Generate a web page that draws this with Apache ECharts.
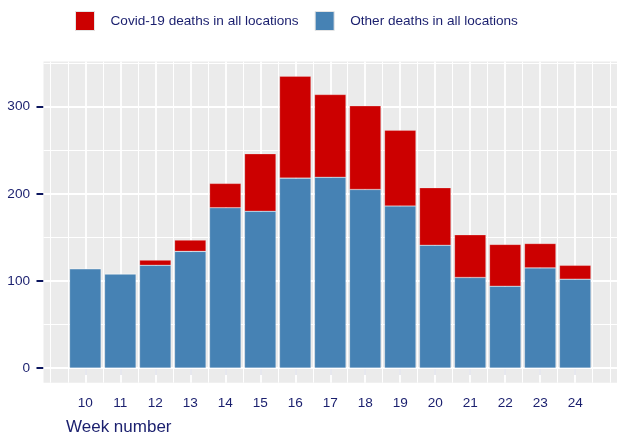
<!DOCTYPE html>
<html>
<head>
<meta charset="utf-8">
<script src="https://cdn.jsdelivr.net/npm/echarts@6/dist/echarts.min.js"></script>
<style>
html,body{margin:0;padding:0;background:#fff;}
#chart{width:617px;height:437px;}
</style>
</head>
<body>
<div id="chart"></div>
<script>
// ---- data ----
var weeks = [10, 11, 12, 13, 14, 15, 16, 17, 18, 19, 20, 21, 22, 23, 24];
var otherDeaths = [114, 108, 118, 134, 184, 180, 218, 219, 205, 186, 141, 104, 94, 115, 102];
var covidDeaths = [0, 0, 6, 13, 28, 66, 117, 95, 96, 87, 66, 49, 48, 28, 16];
var seriesNames = ['Covid-19 deaths in all locations', 'Other deaths in all locations'];
var xTickLabels = [10, 11, 12, 13, 14, 15, 16, 17, 18, 19, 20, 21, 22, 23, 24];
var yTickLabels = [0, 100, 200, 300];
var yMinorGrid = [50, 150, 250, 350];
var xMinorGrid = [9, 9.5, 10.5, 11.5, 12.5, 13.5, 14.5, 15.5, 16.5, 17.5, 18.5, 19.5, 20.5, 21.5, 22.5, 23.5, 24.5, 25];

var textColor = '#1a1f6e';
var tickColor = '#0b155e';
var font = 'Liberation Sans, Arial, sans-serif';
var fs = 13.6;

var gridLines = [];
yTickLabels.forEach(function (v) { gridLines.push({ yAxis: v, lineStyle: { color: '#ffffff', width: 1.8, type: 'solid' } }); });
yMinorGrid.forEach(function (v) { gridLines.push({ yAxis: v, lineStyle: { color: '#ffffff', width: 1.0, type: 'solid' } }); });
xTickLabels.forEach(function (v) { gridLines.push({ xAxis: v, lineStyle: { color: '#ffffff', width: 1.8, type: 'solid' } }); });
xMinorGrid.forEach(function (v) { gridLines.push({ xAxis: v, lineStyle: { color: '#ffffff', width: 1.0, type: 'solid' } }); });

var chart = echarts.init(document.getElementById('chart'), null, { renderer: 'canvas' });
chart.setOption({
  animation: false,
  backgroundColor: '#ffffff',
  textStyle: { fontFamily: font },
  title: {
    text: 'Week number',
    left: 66,
    top: 419,
    padding: 0,
    textStyle: { fontFamily: font, fontSize: 17, fontWeight: 'normal', color: textColor }
  },
  legend: {
    left: 75,
    top: 11,
    padding: 0,
    itemWidth: 19,
    itemHeight: 19,
    itemGap: 16,
    icon: 'rect',
    data: seriesNames,
    itemStyle: { borderColor: '#e4e4e4', borderWidth: 1 },
    textStyle: { fontFamily: font, fontSize: fs, color: textColor, padding: [0, 0, 0, 11] }
  },
  grid: {
    left: 43.5,
    right: -3.5,
    top: 61.6,
    bottom: 54.3,
    show: true,
    backgroundColor: '#ebebeb',
    borderWidth: 0
  },
  xAxis: {
    type: 'value',
    min: 8.805,
    max: 25.195,
    axisLine: { show: false },
    splitLine: { show: false },
    axisTick: { show: true, customValues: xTickLabels, length: 7, lineStyle: { color: tickColor, width: 2 } },
    axisLabel: { customValues: xTickLabels, margin: 14, fontSize: fs, color: textColor, fontFamily: font }
  },
  yAxis: {
    type: 'value',
    min: -16.75,
    max: 351.75,
    axisLine: { show: false },
    splitLine: { show: false },
    axisTick: { show: true, customValues: yTickLabels, length: 7, lineStyle: { color: tickColor, width: 2 } },
    axisLabel: { customValues: yTickLabels, margin: 13.5, fontSize: fs, color: textColor, fontFamily: font }
  },
  series: [
    {
      name: 'grid',
      type: 'line',
      data: [],
      silent: true,
      z: 1,
      markLine: {
        silent: true,
        z: 1,
        symbol: ['none', 'none'],
        label: { show: false },
        emphasis: { disabled: true },
        animation: false,
        data: gridLines
      }
    },
    {
      name: seriesNames[1],
      type: 'bar',
      stack: 'total',
      barWidth: '90%',
      z: 3,
      encode: { x: 1, y: 0 },
      itemStyle: { color: '#4682b4', borderColor: 'rgba(255,255,255,0.35)', borderWidth: 0.6 },
      data: weeks.map(function (w, i) { return [otherDeaths[i], w]; })
    },
    {
      name: seriesNames[0],
      type: 'bar',
      stack: 'total',
      barWidth: '90%',
      z: 3,
      encode: { x: 1, y: 0 },
      itemStyle: { color: '#cc0000', borderColor: 'rgba(255,255,255,0.35)', borderWidth: 0.6 },
      data: weeks.map(function (w, i) { return [covidDeaths[i], w]; })
    }
  ]
});
</script>
</body>
</html>
